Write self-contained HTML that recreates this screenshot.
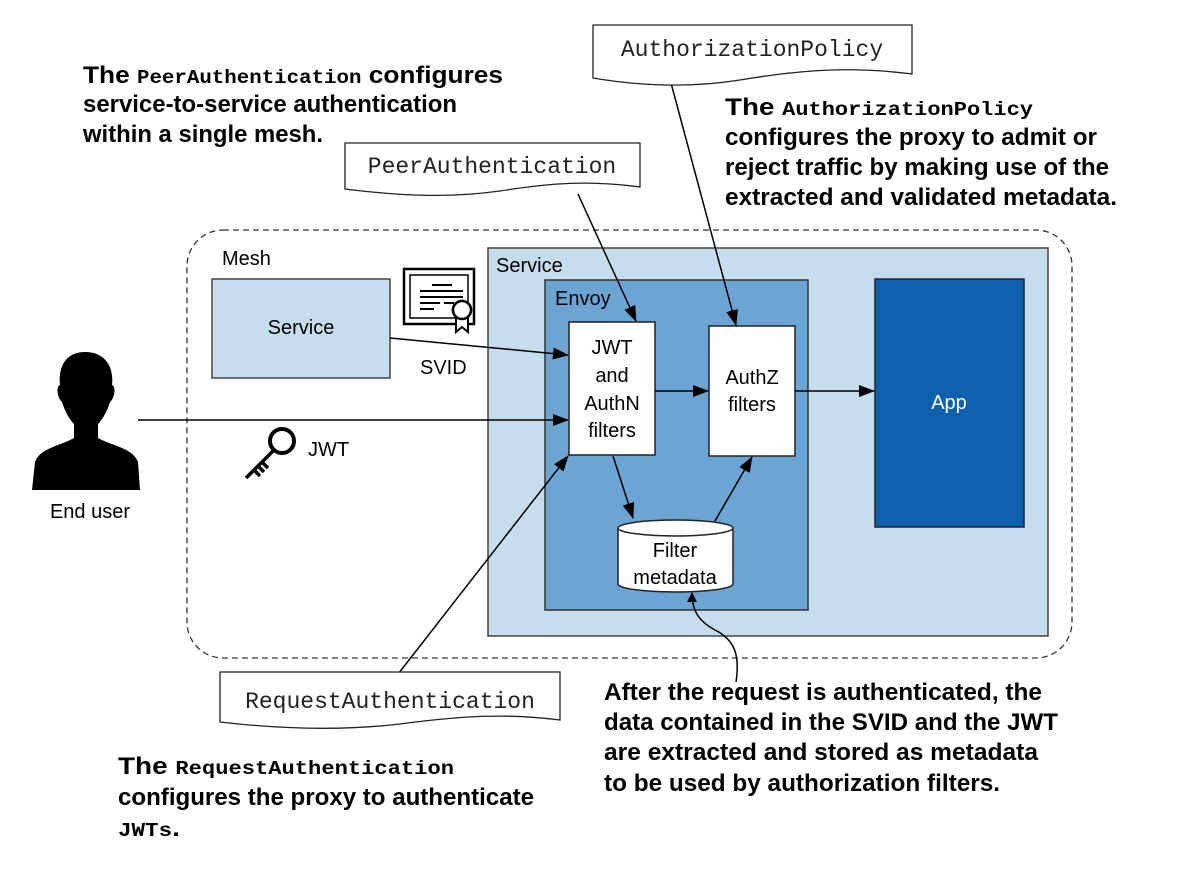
<!DOCTYPE html>
<html><head><meta charset="utf-8"><style>
html,body{margin:0;padding:0;background:#fff}
svg{display:block}
.h{font-family:"Liberation Sans",sans-serif;font-weight:bold;font-size:24px;fill:#000}
.m{font-family:"Liberation Mono",monospace;font-weight:bold;font-size:19px}
.l{font-family:"Liberation Sans",sans-serif;font-size:20px;fill:#000}
.d{font-family:"Liberation Mono",monospace;font-size:23px;fill:#222}
</style></head><body>
<svg width="1192" height="874" viewBox="0 0 1192 874" xmlns="http://www.w3.org/2000/svg">
<defs><marker id="a" markerWidth="10" markerHeight="10" refX="9" refY="5" orient="auto" markerUnits="userSpaceOnUse"><path d="M0,0 L10,5 L0,10 z" fill="#000"/></marker>
<marker id="a2" markerWidth="16" markerHeight="12" refX="15" refY="6" orient="auto" markerUnits="userSpaceOnUse"><path d="M0,0 L16,6 L0,12 z" fill="#000"/></marker></defs>

<rect x="187" y="230" width="885" height="428" rx="36" fill="none" stroke="#333" stroke-width="1.3" stroke-dasharray="6,4"/>
<text x="222" y="265" class="l">Mesh</text>
<rect x="212" y="279" width="178" height="99" fill="#c6ddee" stroke="#444" stroke-width="1.5"/>
<text x="301" y="334" class="l" text-anchor="middle">Service</text>
<rect x="488" y="248" width="560" height="388" fill="#c6ddee" stroke="#444" stroke-width="1.5"/>
<text x="496" y="272" class="l">Service</text>
<rect x="545" y="280" width="263" height="330" fill="#6ca5d4" stroke="#333" stroke-width="1.5"/>
<text x="555" y="305" class="l">Envoy</text>
<rect x="569" y="322" width="86" height="133" fill="#fff" stroke="#222" stroke-width="1.5"/>
<text class="l" text-anchor="middle"><tspan x="612" y="354">JWT</tspan><tspan x="612" y="382">and</tspan><tspan x="612" y="410">AuthN</tspan><tspan x="612" y="437">filters</tspan></text>
<rect x="709" y="326" width="86" height="130" fill="#fff" stroke="#222" stroke-width="1.5"/>
<text class="l" text-anchor="middle"><tspan x="752" y="384">AuthZ</tspan><tspan x="752" y="411">filters</tspan></text>
<rect x="875" y="279" width="149" height="248" fill="#0e60ad" stroke="#223" stroke-width="1.5"/>
<text x="949" y="409" class="l" fill="#fff" style="fill:#fff" text-anchor="middle">App</text>
<!-- cylinder -->
<path d="M618,528 L618,584 A57.5,8 0 0 0 733,584 L733,528" fill="#fff" stroke="#222" stroke-width="1.5"/>
<ellipse cx="675.5" cy="528" rx="57.5" ry="8" fill="#fff" stroke="#222" stroke-width="1.5"/>
<text class="l" text-anchor="middle"><tspan x="675" y="557">Filter</tspan><tspan x="675" y="584">metadata</tspan></text>

<!-- person -->
<path d="M85,352 C65,352 58,368 60,385 C56,386 57,398 62,402 C65,412 70,420 74,424 L74,438 C60,446 40,448 35,462 L32,490 L140,490 L138,462 C133,448 112,446 98,438 L98,424 C102,420 107,412 110,402 C115,398 116,386 112,385 C114,368 106,352 85,352 Z" fill="#000"/>
<text x="90" y="518" class="l" text-anchor="middle">End user</text>
<!-- key -->
<circle cx="282" cy="441" r="12" fill="none" stroke="#000" stroke-width="4"/>
<path d="M274,450 L246,478 M254,470 L260,476 M258,466 L264,472 M262,462 L268,468" stroke="#000" stroke-width="3.5" fill="none"/>
<text x="308" y="456" class="l">JWT</text>
<!-- certificate -->
<rect x="404" y="269" width="70" height="55" fill="#fff" stroke="#000" stroke-width="2.5"/>
<rect x="410" y="275" width="58" height="43" fill="none" stroke="#000" stroke-width="1.5"/>
<path d="M432,285 H452 M420,291 H463 M420,297 H463 M420,303 H440 M444,303 H454 M420,309 H434" stroke="#000" stroke-width="2"/>
<circle cx="462" cy="310" r="9" fill="#fff" stroke="#000" stroke-width="2.5"/>
<path d="M456,318 L456,332 L462,327 L468,332 L468,318" fill="#fff" stroke="#000" stroke-width="2"/>
<circle cx="462" cy="310" r="9" fill="#fff" stroke="#000" stroke-width="2.5"/>
<text x="420" y="374" class="l">SVID</text>

<!-- connectors -->
<g stroke="#000" stroke-width="1.5" fill="none">
<line x1="138" y1="420" x2="568" y2="420" marker-end="url(#a2)"/>
<line x1="390" y1="338" x2="568" y2="355" marker-end="url(#a2)"/>
<line x1="655" y1="391" x2="708" y2="391" marker-end="url(#a2)"/>
<line x1="795" y1="391" x2="874" y2="391" marker-end="url(#a2)"/>
<line x1="613" y1="456" x2="633" y2="518" marker-end="url(#a2)"/>
<line x1="715" y1="521" x2="752" y2="457" marker-end="url(#a2)"/>
<line x1="578" y1="194" x2="636" y2="321" marker-end="url(#a2)"/>
<line x1="671" y1="83" x2="736" y2="325" marker-end="url(#a2)"/>
<line x1="395" y1="678" x2="568" y2="456" marker-end="url(#a2)"/>
<path d="M736,682 C740,655 735,640 715,630 C700,622 692,612 692,593" marker-end="url(#a)"/>
</g>

<!-- documents -->
<path d="M593,25 H912 V74 C850,66 800,70 740,80 C690,88 640,86 593,78 Z" fill="#fff" stroke="#222" stroke-width="1.3"/>
<text x="752" y="56" class="d" text-anchor="middle">AuthorizationPolicy</text>
<path d="M345,143 H640 V187 C590,180 550,183 500,191 C450,198 400,196 345,189 Z" fill="#fff" stroke="#222" stroke-width="1.3"/>
<text x="492" y="173" class="d" text-anchor="middle">PeerAuthentication</text>
<path d="M220,672 H560 V720 C505,713 460,716 400,724 C340,731 280,729 220,722 Z" fill="#fff" stroke="#222" stroke-width="1.3"/>
<text x="390" y="708" class="d" text-anchor="middle">RequestAuthentication</text>

<!-- headings -->
<text x="83" y="83" class="h" textLength="420" lengthAdjust="spacingAndGlyphs">The <tspan class="m">PeerAuthentication</tspan> configures</text>
<text x="83" y="112" class="h" textLength="374" lengthAdjust="spacingAndGlyphs">service-to-service authentication</text>
<text x="83" y="142" class="h" textLength="240" lengthAdjust="spacingAndGlyphs">within a single mesh.</text>

<text x="725" y="115" class="h" textLength="308" lengthAdjust="spacingAndGlyphs">The <tspan class="m">AuthorizationPolicy</tspan></text>
<text x="725" y="145" class="h" textLength="372" lengthAdjust="spacingAndGlyphs">configures the proxy to admit or</text>
<text x="725" y="175" class="h" textLength="384" lengthAdjust="spacingAndGlyphs">reject traffic by making use of the</text>
<text x="725" y="205" class="h" textLength="392" lengthAdjust="spacingAndGlyphs">extracted and validated metadata.</text>

<text x="604" y="700" class="h" textLength="438" lengthAdjust="spacingAndGlyphs">After the request is authenticated, the</text>
<text x="604" y="730" class="h" textLength="454" lengthAdjust="spacingAndGlyphs">data contained in the SVID and the JWT</text>
<text x="604" y="760" class="h" textLength="434" lengthAdjust="spacingAndGlyphs">are extracted and stored as metadata</text>
<text x="604" y="791" class="h" textLength="396" lengthAdjust="spacingAndGlyphs">to be used by authorization filters.</text>

<text x="118" y="774" class="h" textLength="336" lengthAdjust="spacingAndGlyphs">The <tspan class="m">RequestAuthentication</tspan></text>
<text x="118" y="805" class="h" textLength="416" lengthAdjust="spacingAndGlyphs">configures the proxy to authenticate</text>
<text x="118" y="836" class="h" textLength="62" lengthAdjust="spacingAndGlyphs"><tspan class="m">JWTs</tspan>.</text>
</svg>
</body></html>
